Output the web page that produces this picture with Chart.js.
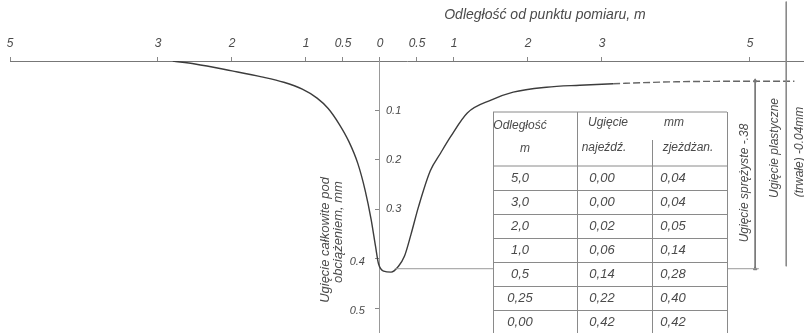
<!DOCTYPE html>
<html>
<head>
<meta charset="utf-8">
<script src="https://cdn.jsdelivr.net/npm/chart.js@4/dist/chart.umd.min.js"></script>
<style>
  html, body { margin: 0; padding: 0; background: #fff; }
</style>
</head>
<body>
<canvas id="basin-chart" width="804" height="333"></canvas>
<script>
// Deflection basin (distance m, deflection mm)
var curveX = [-2.8, -2.5, -2.0, -1.6, -1.3, -1.05, -0.85, -0.7, -0.55, -0.42, -0.3, -0.2, -0.12, -0.06, -0.02,
  0.05, 0.15, 0.25, 0.33, 0.42, 0.52, 0.68, 0.82, 0.95, 1.18, 1.5, 1.8, 2.25, 2.7, 3.15, 4.0, 5.0, 5.6];
var curveY = [0, 0.006, 0.02, 0.032, 0.043, 0.057, 0.075, 0.096, 0.128, 0.163, 0.207, 0.262, 0.32, 0.375, 0.41,
  0.425, 0.427, 0.415, 0.395, 0.35, 0.295, 0.222, 0.186, 0.154, 0.105, 0.079, 0.063, 0.053, 0.049, 0.046, 0.042, 0.041, 0.041];

var xTicks = [-5, -3, -2, -1, -0.5, 0, 0.5, 1, 2, 3, 5];
var yTicks = [0.1, 0.2, 0.3, 0.4, 0.5];

// Table values
var tableDist = ["5,0", "3,0", "2,0", "1,0", "0,5", "0,25", "0,00"];
var tableOn = ["0,00", "0,00", "0,02", "0,06", "0,14", "0,22", "0,42"];
var tableOff = ["0,04", "0,04", "0,05", "0,14", "0,28", "0,40", "0,42"];

var maxDefl = 0.42;
var plasticDefl = 0.04;
var dimX1 = 5.07;
var dimX2 = 5.49;

var ink = "#4a4a4a";
var hand = "italic 12px 'Liberation Sans'";

function pts(xs, ys) {
  var out = [];
  for (var i = 0; i < xs.length; i++) out.push({ x: xs[i], y: ys[i] });
  return out;
}

function rotText(ctx, text, x, y, font) {
  ctx.save();
  ctx.translate(x, y);
  ctx.rotate(-Math.PI / 2);
  ctx.font = font;
  ctx.textAlign = "center";
  ctx.textBaseline = "middle";
  ctx.fillText(text, 0, 0);
  ctx.restore();
}

// Labels, table and notes drawn on top of the plot
var notesPlugin = {
  id: "notes",
  afterDatasetsDraw: function (chart) {
    var ctx = chart.ctx;
    var sx = chart.scales.x, sy = chart.scales.y;
    var x0 = sx.getPixelForValue(0);
    ctx.save();
    ctx.fillStyle = ink;

    // x axis title
    ctx.font = "italic 14px 'Liberation Sans'";
    ctx.textAlign = "center";
    ctx.textBaseline = "middle";
    ctx.fillText("Odległość od punktu pomiaru, m", 545, 15);

    // y tick labels
    ctx.font = "italic 11px 'Liberation Sans'";
    for (var i = 0; i < yTicks.length; i++) {
      var py = sy.getPixelForValue(yTicks[i]);
      if (yTicks[i] < 0.35) {
        ctx.textAlign = "left";
        ctx.fillText(String(yTicks[i]), x0 + 6, py);
      } else {
        ctx.textAlign = "right";
        ctx.fillText(String(yTicks[i]), x0 - 15, py + 3);
      }
    }

    // y axis title
    rotText(ctx, "Ugięcie całkowite pod", x0 - 55, 240, "italic 13px 'Liberation Sans'");
    rotText(ctx, "obciążeniem, mm", x0 - 42, 232, "italic 13px 'Liberation Sans'");

    // table
    var cols = [493, 577, 652, 727];
    var top = 112, headBottom = 166, rowH = 24;
    ctx.fillStyle = "#fff";
    ctx.fillRect(cols[0], top, cols[3] - cols[0], chart.height - top);
    ctx.strokeStyle = "#8a8a8a";
    ctx.lineWidth = 1;
    ctx.beginPath();
    ctx.moveTo(cols[0], top); ctx.lineTo(cols[3], top);
    ctx.moveTo(cols[0], headBottom); ctx.lineTo(cols[3], headBottom);
    for (var r = 1; r < tableDist.length; r++) {
      ctx.moveTo(cols[0], headBottom + r * rowH + 0.5);
      ctx.lineTo(cols[3], headBottom + r * rowH + 0.5);
    }
    ctx.moveTo(cols[0] + 0.5, top); ctx.lineTo(cols[0] + 0.5, chart.height);
    ctx.moveTo(cols[1] + 0.5, top); ctx.lineTo(cols[1] + 0.5, chart.height);
    ctx.moveTo(cols[2] + 0.5, 140); ctx.lineTo(cols[2] + 0.5, chart.height);
    ctx.moveTo(cols[3] + 0.5, top); ctx.lineTo(cols[3] + 0.5, chart.height);
    ctx.stroke();

    ctx.fillStyle = ink;
    ctx.font = hand;
    ctx.textAlign = "center";
    ctx.fillText("Odległość", 520, 126);
    ctx.fillText("m", 525, 149);
    ctx.fillText("Ugięcie", 608, 123);
    ctx.fillText("mm", 674, 123);
    ctx.fillText("najeźdź.", 604, 148);
    ctx.fillText("zjeżdżan.", 688, 148);
    ctx.font = "italic 13px 'Liberation Sans'";
    for (var k = 0; k < tableDist.length; k++) {
      var ty = headBottom + 12 + k * rowH;
      ctx.fillText(tableDist[k], 520, ty);
      ctx.fillText(tableOn[k], 602, ty);
      ctx.fillText(tableOff[k], 673, ty);
    }

    // dimension notes
    var d1 = sx.getPixelForValue(dimX1), d2 = sx.getPixelForValue(dimX2);
    var elastic = (maxDefl - plasticDefl).toFixed(2).replace("0.", ".");
    rotText(ctx, "Ugięcie sprężyste -" + elastic, d1 - 11, 183, hand);
    rotText(ctx, "Ugięcie plastyczne", d2 - 12, 148, hand);
    rotText(ctx, "(trwałe) -" + plasticDefl.toFixed(2) + "mm", d2 + 13, 152, hand);
    ctx.restore();
  }
};

var ctx = document.getElementById("basin-chart").getContext("2d");
var basin_chart = new Chart(ctx, {
  type: "scatter",
  data: {
    datasets: [
      {
        // max deflection level
        data: [{ x: 0.2, y: maxDefl }, { x: dimX1 + 0.05, y: maxDefl }],
        showLine: true,
        borderColor: "#9a9a9a",
        borderWidth: 1,
        pointRadius: 0,
      },
      {
        // elastic deflection dimension line
        data: [{ x: dimX1, y: plasticDefl }, { x: dimX1, y: maxDefl }],
        showLine: true,
        borderColor: "#777",
        borderWidth: 1,
        pointRadius: 2,
        pointStyle: "triangle",
        pointBackgroundColor: "#777",
        pointBorderColor: "#777",
      },
      {
        // plastic deflection dimension line
        data: [{ x: dimX2, y: -0.12 }, { x: dimX2, y: 0.415 }],
        showLine: true,
        clip: false,
        borderColor: "#888",
        borderWidth: 1,
        pointRadius: 0,
      },
      {
        label: "Ugięcie",
        data: pts(curveX, curveY),
        showLine: true,
        borderColor: "#3c3c3c",
        borderWidth: 1.4,
        pointRadius: 0,
        cubicInterpolationMode: "monotone",
        segment: {
          borderDash: function (c) { return c.p0.parsed.x >= 3.1 ? [7, 3] : undefined; },
          borderColor: function (c) { return c.p0.parsed.x >= 3.1 ? "#666" : undefined; },
        },
      },
    ],
  },
  options: {
    responsive: false,
    animation: false,
    layout: { autoPadding: false, padding: { left: 10, right: 0, top: 0, bottom: 0 } },
    plugins: { legend: { display: false }, tooltip: { enabled: false } },
    scales: {
      x: {
        type: "linear",
        position: "top",
        min: -5,
        max: 5.73,
        afterBuildTicks: function (s) {
          s.ticks = xTicks.map(function (v) { return { value: v }; });
        },
        afterFit: function (s) { s.height = 61; },
        ticks: {
          autoSkip: false,
          maxRotation: 0,
          padding: 6,
          color: ink,
          font: { family: "'Liberation Sans'", size: 12, style: "italic" },
          callback: function (v) { return String(Math.abs(v)); },
        },
        grid: { drawOnChartArea: false, tickLength: 4, color: "#888" },
        border: { color: "#777", dash: [14, 2] },
      },
      y: {
        type: "linear",
        position: { x: 0 },
        reverse: true,
        min: 0,
        max: 0.55,
        afterBuildTicks: function (s) {
          s.ticks = yTicks.map(function (v) { return { value: v }; });
        },
        afterFit: function (s) { s.width = 0; },
        ticks: { display: false },
        grid: { drawOnChartArea: false, tickLength: 4, color: "#888" },
        border: { color: "#999", dash: [6, 3] },
      },
    },
  },
  plugins: [notesPlugin],
});
</script>
</body>
</html>
